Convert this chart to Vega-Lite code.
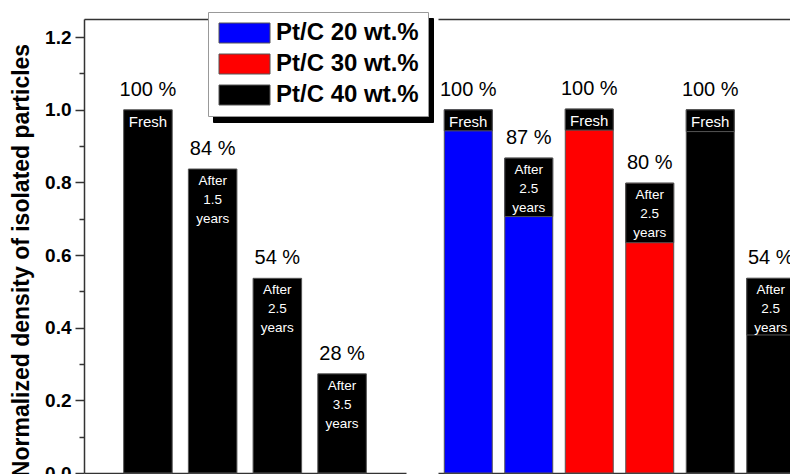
{
  "$schema": "https://vega.github.io/schema/vega-lite/v6.json",
  "padding": {"left": 10, "top": 11, "right": 0, "bottom": 0},
  "bounds": "flush",
  "spacing": 32,
  "resolve": {"scale": {"color": "independent"}},
  "config": {
    "font": "Liberation Sans",
    "view": {"stroke": null},
    "legend": {
      "orient": "none",
      "symbolType": "M-1,-1H4.1V1H-1Z", "symbolSize": 400,
      "symbolStrokeColor": "#555", "symbolStrokeWidth": 1, "symbolOpacity": 1,
      "labelFont": "Liberation Sans", "labelFontSize": 24, "labelFontWeight": "bold",
      "labelColor": "black", "labelOffset": 35, "rowPadding": 7, "padding": 9,
      "strokeColor": "#999", "fillColor": "white", "labelLimit": 300
    }
  },
  "datasets": {
    "bars": [
      {"panel": "left", "bar": "L1", "series": "Pt/C 40 wt.%", "value": 1.0, "box": 0.94, "pct": "100 %", "cond": "Fresh"},
      {"panel": "left", "bar": "L2", "series": "Pt/C 40 wt.%", "value": 0.837, "box": 0.68, "pct": "84 %", "cond": "After\n1.5\nyears"},
      {"panel": "left", "bar": "L3", "series": "Pt/C 40 wt.%", "value": 0.536, "box": 0.38, "pct": "54 %", "cond": "After\n2.5\nyears"},
      {"panel": "left", "bar": "L4", "series": "Pt/C 40 wt.%", "value": 0.273, "box": 0.12, "pct": "28 %", "cond": "After\n3.5\nyears"},
      {"panel": "right", "bar": "R1", "series": "Pt/C 20 wt.%", "value": 1.0, "box": 0.942, "pct": "100 %", "cond": "Fresh"},
      {"panel": "right", "bar": "R2", "series": "Pt/C 20 wt.%", "value": 0.867, "box": 0.706, "pct": "87 %", "cond": "After\n2.5\nyears"},
      {"panel": "right", "bar": "R3", "series": "Pt/C 30 wt.%", "value": 1.002, "box": 0.944, "pct": "100 %", "cond": "Fresh"},
      {"panel": "right", "bar": "R4", "series": "Pt/C 30 wt.%", "value": 0.798, "box": 0.634, "pct": "80 %", "cond": "After\n2.5\nyears"},
      {"panel": "right", "bar": "R5", "series": "Pt/C 40 wt.%", "value": 1.0, "box": 0.94, "pct": "100 %", "cond": "Fresh"},
      {"panel": "right", "bar": "R6", "series": "Pt/C 40 wt.%", "value": 0.536, "box": 0.38, "pct": "54 %", "cond": "After\n2.5\nyears"}
    ]
  },
  "hconcat": [
    {
      "width": 322, "height": 454,
      "data": {"name": "bars"},
      "transform": [{"filter": "datum.panel === 'left'"}],
      "layer": [
        {
          "mark": {"type": "bar", "stroke": "#555", "strokeWidth": 1},
          "encoding": {
            "x": {"field": "bar", "type": "nominal", "sort": null,
                  "scale": {"paddingInner": 0.25, "paddingOuter": 0.613},
                  "axis": {"orient": "bottom", "title": null, "labels": false, "ticks": false, "domainColor": "#333", "domainWidth": 1.5}},
            "y": {"field": "value", "type": "quantitative",
                  "scale": {"domain": [0, 1.25], "nice": false, "zero": true},
                  "axis": {"orient": "left", "values": [0, 0.2, 0.4, 0.6, 0.8, 1.0, 1.2], "format": ".1f",
                           "title": "Normalized density of isolated particles", "grid": false,
                           "tickSize": 9, "tickWidth": 1.5, "tickColor": "#333", "domainColor": "#333", "domainWidth": 1.5,
                           "labelFont": "Liberation Sans", "labelFontSize": 19, "labelFontWeight": "bold", "labelColor": "black", "labelPadding": 4,
                           "titleFont": "Liberation Sans", "titleFontSize": 23, "titleFontWeight": "bold", "titleColor": "black", "titlePadding": 11, "titleY": 241}},
            "color": {"field": "series", "type": "nominal", "title": null,
                      "scale": {"domain": ["Pt/C 20 wt.%", "Pt/C 30 wt.%", "Pt/C 40 wt.%"], "range": ["#000000", "#000000", "#000000"]},
                      "legend": {"legendX": 129, "legendY": -1, "fillColor": "black", "strokeColor": "black",
                                 "symbolStrokeColor": "black", "labelColor": "black", "labelOpacity": 0, "zindex": 1}}
          }
        },
        {
          "mark": {"type": "text", "fontSize": 20, "color": "black", "baseline": "alphabetic", "dy": -14},
          "encoding": {
            "x": {"field": "bar", "type": "nominal", "sort": null,
                  "axis": {"orient": "top", "title": null, "labels": false, "ticks": false, "domainColor": "#333", "domainWidth": 1.5}},
            "y": {"field": "value", "type": "quantitative",
                  "axis": {"orient": "left", "values": [0.1, 0.3, 0.5, 0.7, 0.9, 1.1], "labels": false, "domain": false, "title": null, "grid": false,
                           "tickSize": 5, "tickWidth": 1.5, "tickColor": "#333"}},
            "text": {"field": "pct"}
          }
        },
        {
          "mark": {"type": "text", "color": "white", "baseline": "top", "dy": 5, "lineBreak": "\n", "lineHeight": 19},
          "encoding": {
            "x": {"field": "bar", "type": "nominal", "sort": null, "axis": null},
            "y": {"field": "value", "type": "quantitative", "axis": null},
            "text": {"field": "cond"},
            "size": {"condition": {"test": "datum.cond === 'Fresh'", "value": 15}, "value": 13.5}
          }
        }
      ],
      "resolve": {"axis": {"x": "independent", "y": "independent"}}
    },
    {
      "width": 363, "height": 454,
      "data": {"name": "bars"},
      "transform": [{"filter": "datum.panel === 'right'"}],
      "layer": [
        {
          "mark": {"type": "bar", "stroke": "#555", "strokeWidth": 1},
          "encoding": {
            "x": {"field": "bar", "type": "nominal", "sort": null,
                  "scale": {"paddingInner": 0.207, "paddingOuter": 0.104},
                  "axis": {"orient": "bottom", "title": null, "labels": false, "ticks": false, "domainColor": "#333", "domainWidth": 1.5}},
            "y": {"field": "value", "type": "quantitative", "scale": {"domain": [0, 1.25], "nice": false, "zero": true}, "axis": null},
            "color": {"field": "series", "type": "nominal", "title": null,
                      "scale": {"domain": ["Pt/C 20 wt.%", "Pt/C 30 wt.%", "Pt/C 40 wt.%"], "range": ["#0000ff", "#ff0000", "#000000"]},
                      "legend": {"legendX": -230, "legendY": -7, "zindex": 2}}
          }
        },
        {
          "mark": {"type": "bar", "color": "black", "stroke": "#555", "strokeWidth": 1},
          "encoding": {
            "x": {"field": "bar", "type": "nominal", "sort": null, "axis": null},
            "y": {"field": "value", "type": "quantitative", "axis": null},
            "y2": {"field": "box"}
          }
        },
        {
          "mark": {"type": "text", "fontSize": 20, "color": "black", "baseline": "alphabetic", "dy": -14},
          "encoding": {
            "x": {"field": "bar", "type": "nominal", "sort": null,
                  "axis": {"orient": "top", "title": null, "labels": false, "ticks": false, "domainColor": "#333", "domainWidth": 1.5}},
            "y": {"field": "value", "type": "quantitative", "axis": null},
            "text": {"field": "pct"}
          }
        },
        {
          "mark": {"type": "text", "color": "white", "baseline": "top", "dy": 5, "lineBreak": "\n", "lineHeight": 19},
          "encoding": {
            "x": {"field": "bar", "type": "nominal", "sort": null, "axis": null},
            "y": {"field": "value", "type": "quantitative", "axis": null},
            "text": {"field": "cond"},
            "size": {"condition": {"test": "datum.cond === 'Fresh'", "value": 15}, "value": 13.5}
          }
        }
      ],
      "resolve": {"axis": {"x": "independent"}}
    }
  ]
}
